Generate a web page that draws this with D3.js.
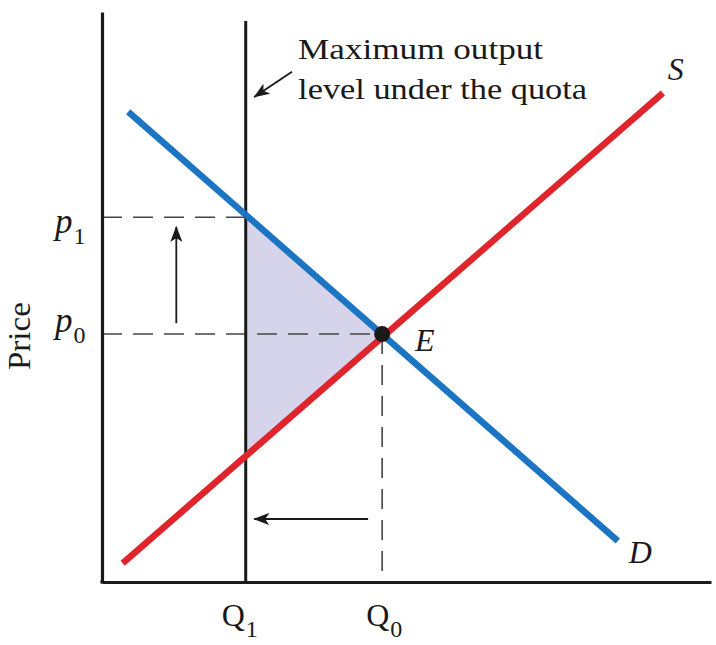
<!DOCTYPE html>
<html>
<head>
<meta charset="utf-8">
<script src="https://cdn.jsdelivr.net/npm/d3@7"></script>
<style>
  html, body { margin: 0; padding: 0; background: #fff; }
  svg { display: block; }
  text { font-family: "Liberation Serif", "Times New Roman", serif; fill: #1a1a1a; }
</style>
</head>
<body>
<svg id="chart" width="716" height="645"></svg>
<script>
// ---------- data (quantity 0-100, price 0-100) ----------
const demandCurve = [[4.3, 82.5], [84.7, 7.2]];
const supplyCurve = [[3.4, 3.3], [92.1, 85.8]];
const equilibrium = [46.0, 43.5];          // point E
const quotaQuantity = 23.6;                // Q1
const quotaTop = 98.4;
const quantityTicks = [23.6, 46.0];
const quantityTickLabels = [["Q", "1"], ["Q", "0"]];
const priceTicks = [64.0, 43.5];
const priceTickLabels = [["p", "1"], ["p", "0"]];
const curveLabels = ["S", "D", "E"];
const curveLabelAnchors = [[92.9, 88.1], [86.5, 3.3], [51.4, 40.5]];
const calloutLines = ["Maximum output", "level under the quota"];
const calloutAnchor = [32.2, 91.8];
const calloutArrow = [[31.2, 89.5], [25.0, 85.1]];
const priceArrow = [[12.2, 45.4], [12.2, 62.3]];
const quantityArrow = [[43.7, 11.05], [25.0, 11.05]];
const yAxisTitle = "Price";

// ---------- scales ----------
const svg = d3.select("#chart");
const x = d3.scaleLinear().domain([0, 100]).range([102, 711]);
const y = d3.scaleLinear().domain([0, 100]).range([582, 12]);

const BLUE = "#1b75c2", RED = "#e0242b", SHADE = "#d5d4eb", INK = "#1a1a1a";

// arrowhead marker
const defs = svg.append("defs");
defs.append("marker")
  .attr("id", "arrow")
  .attr("viewBox", "0 0 16 12")
  .attr("refX", 15).attr("refY", 6)
  .attr("markerWidth", 16).attr("markerHeight", 12)
  .attr("markerUnits", "userSpaceOnUse")
  .attr("orient", "auto")
  .append("path")
  .attr("d", "M0,0 L16,6 L0,12 L4,6 Z")
  .attr("fill", INK);

// helper: value of a straight curve at a given quantity
function at(curve, q) {
  const [a, b] = curve;
  const t = (q - a[0]) / (b[0] - a[0]);
  return a[1] + t * (b[1] - a[1]);
}

// ---------- shaded deadweight triangle ----------
const triangle = [
  [quotaQuantity, at(demandCurve, quotaQuantity)],
  equilibrium,
  [quotaQuantity, at(supplyCurve, quotaQuantity)]
];
svg.append("path")
  .attr("d", d3.line().x(d => x(d[0])).y(d => y(d[1]))(triangle) + "Z")
  .attr("fill", SHADE);

// ---------- dashed guide lines ----------
const dash = "20,11";
svg.append("line")
  .attr("x1", x(0)).attr("x2", x(quotaQuantity))
  .attr("y1", y(priceTicks[0])).attr("y2", y(priceTicks[0]))
  .attr("stroke", "#444").attr("stroke-width", 1.6).attr("stroke-dasharray", dash);
svg.append("line")
  .attr("x1", x(0)).attr("x2", x(equilibrium[0]))
  .attr("y1", y(priceTicks[1])).attr("y2", y(priceTicks[1]))
  .attr("stroke", "#444").attr("stroke-width", 1.6).attr("stroke-dasharray", dash);
svg.append("line")
  .attr("x1", x(equilibrium[0])).attr("x2", x(equilibrium[0]))
  .attr("y1", y(equilibrium[1])).attr("y2", y(0))
  .attr("stroke", "#444").attr("stroke-width", 1.6).attr("stroke-dasharray", dash);

// ---------- axes ----------
svg.append("g")
  .attr("transform", `translate(0,${y(0)})`)
  .call(d3.axisBottom(x).tickValues([]).tickSizeOuter(0));
svg.append("g")
  .attr("transform", `translate(${x(0)},0)`)
  .call(d3.axisLeft(y).tickValues([]).tickSizeOuter(0));
svg.selectAll(".domain").attr("stroke", INK).attr("stroke-width", 3.2);
svg.append("line")
  .attr("x1", x(0) - 1.6).attr("x2", x(0) + 2)
  .attr("y1", y(0)).attr("y2", y(0))
  .attr("stroke", INK).attr("stroke-width", 3.2);

// ---------- quota line ----------
svg.append("line")
  .attr("x1", x(quotaQuantity)).attr("x2", x(quotaQuantity))
  .attr("y1", y(quotaTop)).attr("y2", y(0))
  .attr("stroke", INK).attr("stroke-width", 3);

// ---------- curves ----------
const line = d3.line().x(d => x(d[0])).y(d => y(d[1]));
svg.append("path").attr("d", line(supplyCurve))
  .attr("stroke", RED).attr("stroke-width", 6.5).attr("fill", "none");
svg.append("path").attr("d", line(demandCurve))
  .attr("stroke", BLUE).attr("stroke-width", 6.5).attr("fill", "none");

// equilibrium point
svg.append("circle")
  .attr("cx", x(equilibrium[0])).attr("cy", y(equilibrium[1]))
  .attr("r", 8).attr("fill", INK);

// ---------- arrows ----------
function arrow(pts, w) {
  svg.append("line")
    .attr("x1", x(pts[0][0])).attr("y1", y(pts[0][1]))
    .attr("x2", x(pts[1][0])).attr("y2", y(pts[1][1]))
    .attr("stroke", INK).attr("stroke-width", w)
    .attr("marker-end", "url(#arrow)");
}
arrow(priceArrow, 1.8);
arrow(quantityArrow, 1.8);
arrow(calloutArrow, 1.8);

// ---------- labels ----------
const calloutWidths = [245, 289];
svg.append("g").selectAll("text").data(calloutLines).join("text")
  .attr("x", x(calloutAnchor[0]))
  .attr("y", (d, i) => y(calloutAnchor[1]) + i * 40)
  .attr("font-size", 30)
  .attr("textLength", (d, i) => calloutWidths[i])
  .attr("lengthAdjust", "spacingAndGlyphs")
  .text(d => d);

svg.append("g").selectAll("text").data(curveLabels).join("text")
  .attr("x", (d, i) => x(curveLabelAnchors[i][0]))
  .attr("y", (d, i) => y(curveLabelAnchors[i][1]))
  .attr("font-size", 32)
  .attr("font-style", "italic")
  .text(d => d);

// price tick labels (p1, p0)
const pDy = [16, -2];
priceTicks.forEach((v, i) => {
  const t = svg.append("text")
    .attr("x", 55).attr("y", y(v) + pDy[i])
    .attr("font-size", 35);
  t.append("tspan").attr("font-style", "italic").text(priceTickLabels[i][0]);
  t.append("tspan").attr("font-size", 24).attr("dx", 1).attr("dy", 11).text(priceTickLabels[i][1]);
});

// quantity tick labels (Q1, Q0)
const qDx = [-24, -16];
quantityTicks.forEach((v, i) => {
  const t = svg.append("text")
    .attr("x", x(v) + qDx[i]).attr("y", 626)
    .attr("font-size", 32);
  t.append("tspan").text(quantityTickLabels[i][0]);
  t.append("tspan").attr("font-size", 24).attr("dx", 1).attr("dy", 11).text(quantityTickLabels[i][1]);
});

// y axis title
svg.append("text")
  .attr("transform", `translate(30,${y(priceTicks[1]) + 2}) rotate(-90)`)
  .attr("text-anchor", "middle")
  .attr("font-size", 31)
  .attr("textLength", 68)
  .attr("lengthAdjust", "spacingAndGlyphs")
  .text(yAxisTitle);
</script>
</body>
</html>
